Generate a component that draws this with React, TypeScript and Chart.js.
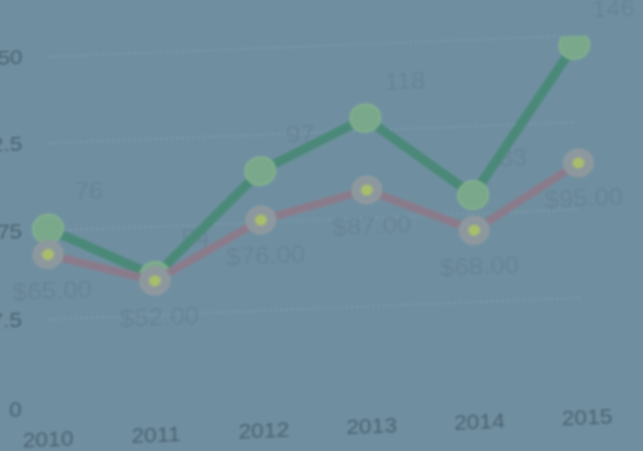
import React, { useEffect, useRef } from 'react';
import { Chart, registerables } from 'chart.js';

Chart.register(...registerables);

const categories = ['2010', '2011', '2012', '2013', '2014', '2015'];
const priceValues = [65, 52, 76, 87, 68, 95];
const countValues = [76, 54, 97, 118, 83, 146];
const yTickValues = [0, 37.5, 75, 112.5, 150];

const FONT = "'Liberation Sans', Arial, Helvetica, sans-serif";

// where the chart-area corners appear in the (photographed, tilted) picture
const TARGET = {
  bottomLeft: [48, 409],
  bottomRight: [586, 387],
  topLeft: [48, 57],
  topRight: [574, 36],
};

function solveHomography(src: number[][], dst: number[][]) {
  const A: number[][] = [];
  const b: number[] = [];
  for (let i = 0; i < 4; i++) {
    const [x, y] = src[i];
    const [u, v] = dst[i];
    A.push([x, y, 1, 0, 0, 0, -x * u, -y * u]);
    b.push(u);
    A.push([0, 0, 0, x, y, 1, -x * v, -y * v]);
    b.push(v);
  }
  const n = 8;
  for (let c = 0; c < n; c++) {
    let p = c;
    for (let r = c + 1; r < n; r++) if (Math.abs(A[r][c]) > Math.abs(A[p][c])) p = r;
    [A[c], A[p]] = [A[p], A[c]];
    [b[c], b[p]] = [b[p], b[c]];
    for (let r = 0; r < n; r++) {
      if (r === c) continue;
      const f = A[r][c] / A[c][c];
      for (let k = c; k < n; k++) A[r][k] -= f * A[c][k];
      b[r] -= f * b[c];
    }
  }
  return b.map((v, i) => v / A[i][i]);
}

const labelStyles = [
  { dx: 4, dy: 37, format: (v: number) => '$' + v.toFixed(2) },
  { dx: 38, dy: -34, format: (v: number) => String(v) },
];

const valueLabels = {
  id: 'valueLabels',
  beforeDatasetsDraw(chart: any) {
    const ctx = chart.ctx;
    chart.data.datasets.forEach((ds: any, i: number) => {
      const meta = chart.getDatasetMeta(i);
      const st = labelStyles[i];
      meta.data.forEach((el: any, j: number) => {
        ctx.save();
        ctx.font = `24px ${FONT}`;
        ctx.fillStyle = 'rgba(88,112,128,0.36)';
        ctx.textAlign = 'center';
        ctx.textBaseline = 'middle';
        ctx.fillText(st.format(ds.data[j]), el.x + st.dx, el.y + st.dy);
        ctx.restore();
      });
    });
  },
};

export default function App() {
  const canvasRef = useRef<HTMLCanvasElement | null>(null);
  const wrapRef = useRef<HTMLDivElement | null>(null);

  useEffect(() => {
    const canvas = canvasRef.current;
    if (!canvas) return;
    const chart = new Chart(canvas, {
      type: 'line',
      data: {
        labels: categories,
        datasets: [
          {
            label: 'Price',
            data: priceValues,
            borderColor: '#8a7b8b',
            borderWidth: 8,
            pointRadius: 10,
            pointBackgroundColor: '#a9be6c',
            pointBorderColor: '#8d989e',
            pointBorderWidth: 9,
            tension: 0,
          },
          {
            label: 'Count',
            data: countValues,
            borderColor: '#4a8878',
            borderWidth: 9,
            pointRadius: 14,
            pointBackgroundColor: '#79a98a',
            pointBorderColor: '#82ae8f',
            pointBorderWidth: 2,
            tension: 0,
          },
        ],
      },
      options: {
        responsive: false,
        animation: false,
        devicePixelRatio: 1,
        layout: { padding: { top: 55, right: 60, bottom: 14, left: 6 } },
        plugins: {
          legend: { display: false },
          tooltip: { enabled: false },
        },
        scales: {
          x: {
            offset: false,
            grid: { display: false },
            border: { display: false },
            ticks: {
              padding: 10,
              color: '#4a6171',
              font: { family: FONT, size: 21 },
            },
          },
          y: {
            min: 0,
            max: 150,
            afterBuildTicks: (scale: any) => {
              scale.ticks = yTickValues.map((v) => ({ value: v }));
            },
            grid: {
              drawTicks: false,
              color: (c: any) => (c.tick && c.tick.value === 0 ? 'rgba(0,0,0,0)' : 'rgba(150,176,190,0.45)'),
              lineWidth: 1.5,
            },
            border: { display: false, dash: [2, 3] },
            ticks: {
              padding: 24,
              color: '#4a6171',
              font: { family: FONT, size: 21 },
              callback: (v: any) => String(v),
            },
          },
        },
      },
      plugins: [valueLabels],
    });

    const xs = chart.scales.x as any;
    const ys = chart.scales.y as any;
    const xl = xs.getPixelForValue(0);
    const xr = xs.getPixelForValue(categories.length - 1);
    const yb = ys.getPixelForValue(0);
    const yt = ys.getPixelForValue(150);
    const h = solveHomography(
      [[xl, yb], [xr, yb], [xl, yt], [xr, yt]],
      [TARGET.bottomLeft, TARGET.bottomRight, TARGET.topLeft, TARGET.topRight]
    );
    const [a, b, c, d, e, f, g, hh] = h;
    if (wrapRef.current) {
      wrapRef.current.style.transform = `matrix3d(${a},${d},0,${g},${b},${e},0,${hh},0,0,1,0,${c},${f},0,1)`;
    }
    return () => chart.destroy();
  }, []);

  return (
    <div
      style={{
        position: 'fixed',
        left: 0,
        top: 0,
        width: 643,
        height: 451,
        overflow: 'hidden',
        background: '#6f8fa0',
      }}
    >
      <div
        ref={wrapRef}
        style={{ position: 'absolute', left: 0, top: 0, width: 660, height: 470, transformOrigin: '0 0' }}
      >
        <canvas
          ref={canvasRef}
          width={660}
          height={470}
          style={{ display: 'block', width: 660, height: 470, filter: 'blur(0.8px)' }}
        />
      </div>
    </div>
  );
}
